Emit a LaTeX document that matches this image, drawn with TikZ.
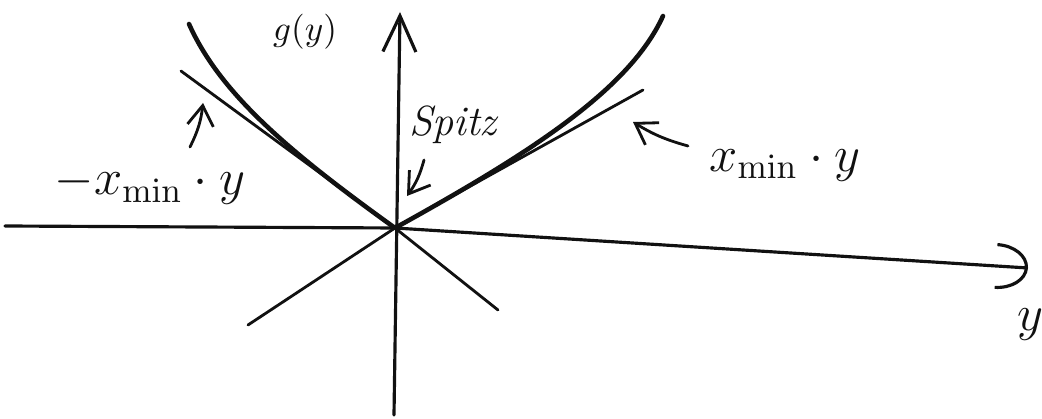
\documentclass[tikz,border=0pt]{standalone}
\usepackage{amsmath,amssymb}
\usepackage{xcolor}
\usetikzlibrary{arrows.meta,positioning}
\definecolor{ink}{HTML}{111111}
\tikzset{
  >={Straight Barb[length=2mm,width=2.6mm]},
  axisline/.style={ink, line width=0.9pt},
  graphline/.style={ink, line width=1.3pt},
  tanline/.style={ink, line width=0.8pt},
  pointer/.style={ink, line width=0.8pt, ->},
  hlabel/.style={text=ink, inner sep=1pt},
}

\begin{document}
\begin{tikzpicture}[line cap=round, line join=round]
\useasboundingbox (-3.95,-1.91) rectangle (6.47,2.28);

% ===================== axes =====================
\coordinate (O) at (0,0);
\draw[axisline, -{Arc Barb[length=3.2mm,width=4.6mm]}] (-3.90,0.02) -- (O) -- (6.33,-0.40);
\draw[axisline, -{Straight Barb[length=3.6mm,width=3.3mm]}] (-0.01,-1.87) -- (0.05,2.16);

% ===================== g and the two tangents =====================
\draw[graphline] (-2.06,2.04) .. controls (-1.74,1.32) and (-1.00,0.72) .. (O)
  .. controls (1.30,0.72) and (2.34,1.37) .. (2.68,2.12);
\draw[tanline] (-1.47,-0.97) -- (O) -- (2.48,1.38);
\draw[tanline] (-2.14,1.57) -- (O) -- (1.03,-0.82);

% ===================== labels =====================
\node[hlabel] (gylabel) at (-0.90,1.96) {$g(y)$};
\node[hlabel, font=\large\itshape] (spitz) at (0.58,1.03) {Spitz};
\node[hlabel, font=\Large] (negtan) at (-2.45,0.43) {$-x_{\min}\cdot y$};
\node[hlabel, font=\Large] (postan) at (3.90,0.63) {$x_{\min}\cdot y$};
\node[hlabel, font=\Large] (ylabel) at (6.35,-0.97) {$y$};

% ===================== pointers =====================
\coordinate (spitzfrom) at (0.29,0.68);
\coordinate (spitztip) at (0.12,0.32);
\coordinate (negfrom) at (-2.05,0.81);
\coordinate (negtip) at (-1.92,1.25);
\coordinate (posfrom) at (2.93,0.82);
\coordinate (postip) at (2.38,1.06);
\draw[pointer] (spitzfrom) to[bend left=10] (spitztip);
\draw[pointer] (negfrom) to[bend right=10] (negtip);
\draw[pointer] (posfrom) to[bend left=8] (postip);

\end{tikzpicture}
\end{document}
